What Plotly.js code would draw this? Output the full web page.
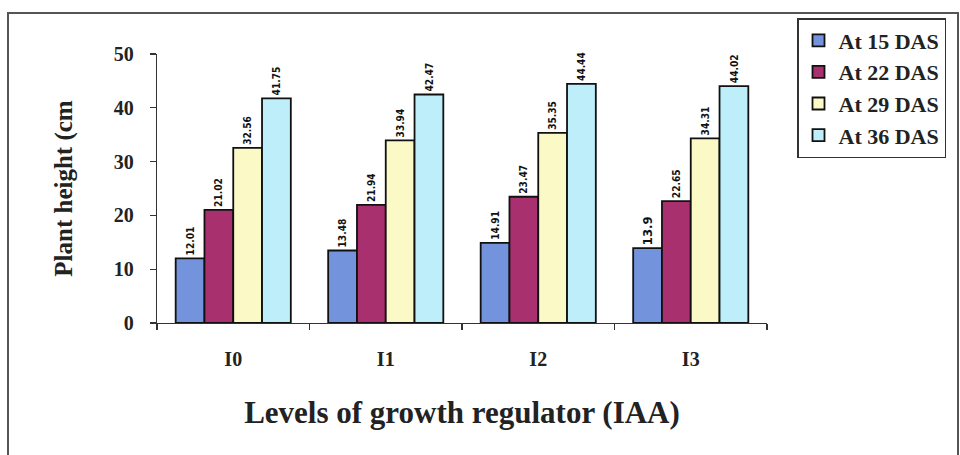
<!DOCTYPE html>
<html>
<head>
<meta charset="utf-8">
<script src="https://cdn.plot.ly/plotly-3.0.1.min.js"></script>
<style>
html,body{margin:0;padding:0;background:#fff;}
#chart{width:960px;height:455px;}
</style>
</head>
<body>
<div id="chart"></div>
<script>
const categories = ["I0", "I1", "I2", "I3"];
const seriesNames = ["At 15 DAS", "At 22 DAS", "At 29 DAS", "At 36 DAS"];
const das15 = [12.01, 13.48, 14.91, 13.9];
const das22 = [21.02, 21.94, 23.47, 22.65];
const das29 = [32.56, 33.94, 35.35, 34.31];
const das36 = [41.75, 42.47, 44.44, 44.02];
const labels15 = ["12.01", "13.48", "14.91", "13.9"];
const labels22 = ["21.02", "21.94", "23.47", "22.65"];
const labels29 = ["32.56", "33.94", "35.35", "34.31"];
const labels36 = ["41.75", "42.47", "44.44", "44.02"];
const yTicks = [0, 10, 20, 30, 40, 50];

const colors = ["#7394dc", "#a8306f", "#fbf9c6", "#bdeefa"];
const values = [das15, das22, das29, das36];
const labels = [labels15, labels22, labels29, labels36];
const serif = "Liberation Serif";

const traces = values.map((v, i) => ({
  type: "bar",
  name: seriesNames[i],
  x: categories,
  y: v,
  text: labels[i],
  textposition: "outside",
  textangle: -90,
  cliponaxis: false,
  textfont: {family: "DejaVu Sans Condensed, Liberation Sans Narrow, Arial", size: 14, color: "#111", weight: "bold"},
  marker: {color: colors[i], line: {color: "#111", width: 1.8}},
  hoverinfo: "none"
}));

const pl = 157, pr = 767, pt = 54, pb = 323;
const pw = pr - pl, ph = pb - pt;

const layout = {
  width: 960, height: 455,
  margin: {l: pl, r: 960 - pr, t: pt, b: 455 - pb},
  paper_bgcolor: "#fff",
  plot_bgcolor: "rgba(0,0,0,0)",
  barmode: "group",
  bargap: 0.245,
  bargroupgap: 0,
  font: {family: serif, color: "#222"},
  showlegend: true,
  legend: {
    x: (797 - pl) / pw, y: (pb - 18) / ph, xanchor: "left", yanchor: "top",
    bgcolor: "#fff", bordercolor: "#333", borderwidth: 1.5,
    font: {family: "Liberation Serif", size: 22, color: "#222", weight: "bold"},
    tracegroupgap: 0, itemwidth: 30
  },
  xaxis: {
    type: "category",
    tickson: "boundaries",
    ticks: "outside", ticklen: 6, tickcolor: "#333", tickwidth: 1.2,
    showline: true, linecolor: "#333", linewidth: 1.2,
    showgrid: false, zeroline: false,
    tickfont: {family: serif, size: 20, color: "#222", weight: "bold"},
    ticklabelstandoff: 18,
    title: {text: "Levels of growth regulator (IAA)", standoff: 32,
      font: {family: serif, size: 31, color: "#222", weight: "bold"}}
  },
  yaxis: {
    range: [0, 50],
    tickvals: yTicks,
    ticks: "outside", ticklen: 6, tickcolor: "#333", tickwidth: 1.2,
    showline: true, linecolor: "#333", linewidth: 1.2,
    showgrid: false, zeroline: false,
    tickfont: {family: serif, size: 20, color: "#222", weight: "bold"},
    ticklabelstandoff: 12,
    title: {text: "Plant height (cm", standoff: 34,
      font: {family: serif, size: 25, color: "#222", weight: "bold"}}
  },
  shapes: [{
    type: "rect", xref: "paper", yref: "paper", layer: "below",
    x0: (8 - pl) / pw, x1: (958 - pl) / pw,
    y0: (pb - 470) / ph, y1: (pb - 13) / ph,
    line: {color: "#555", width: 2}, fillcolor: "rgba(0,0,0,0)"
  }]
};

Plotly.newPlot("chart", traces, layout, {staticPlot: true, displayModeBar: false});
</script>
</body>
</html>
